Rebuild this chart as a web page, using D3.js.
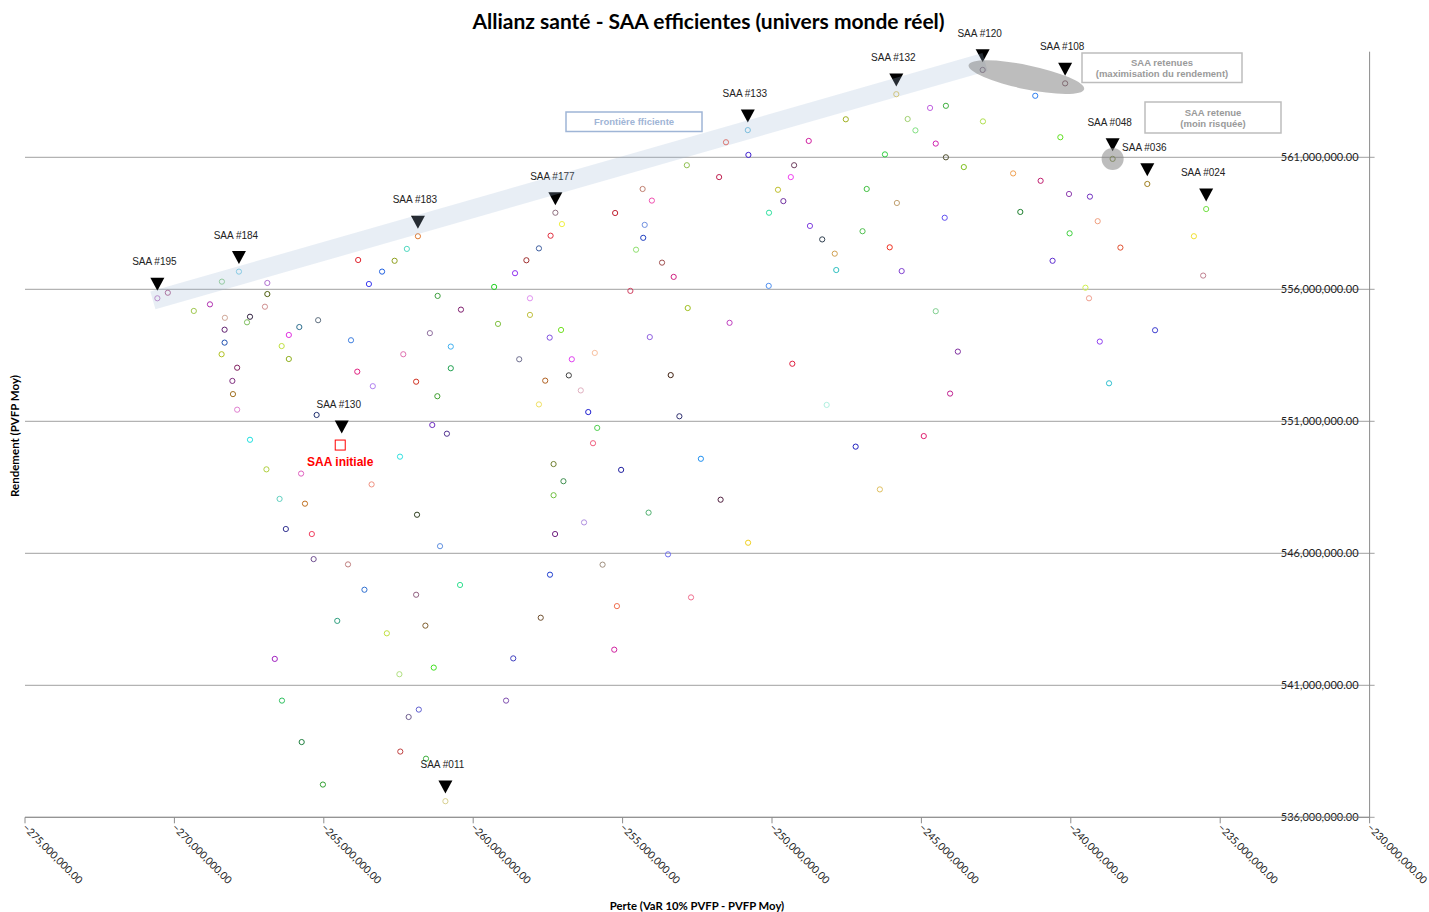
<!DOCTYPE html>
<html>
<head>
<meta charset="utf-8">
<script src="https://cdn.jsdelivr.net/npm/d3@7"></script>
<style>
  body { margin: 0; background: #fff; }
  svg { display: block; }
</style>
</head>
<body>
<svg id="chart" width="1429" height="912"></svg>
<script>
// Perte (VaR 10% PVFP - PVFP Moy), in millions
const perte = [
  -263.85,-263.49,-263.05,-262.63,-262.22,-261.85,-268.41,-267.84,-266.89,-266.89,-270.22,-270.57,-261.19,
  -269.35,-268.81,-266.97,-268.31,-267.47,-267.57,-268.32,-268.32,-268.42,-267.90,-268.06,-268.04,-267.90,-266.17,-266.41,-266.17,-265.82,-265.19,-264.09,-263.88,-263.36,-262.34,-261.91,-261.45,-260.75,-260.75,-261.20,-260.41,-265.24,-267.47,-266.92,-265.76,-263.40,-262.45,-261.37,-260.88,-266.48,-265.63,-261.88,-266.27,-265.40,-261.11,-265.34,
  -264.19,-263.64,-261.91,-260.44,-264.55,-262.89,-261.60,-266.64,-261.32,-262.47,-266.40,-261.82,-262.16,-265.74,-262.44,-261.58,-265.03,-260.93,
  -250.81,-251.54,-250.79,-248.77,-247.53,-245.84,-245.46,-245.20,-246.22,-252.85,-251.77,-249.26,-249.37,-249.80,-249.62,-250.10,-246.83,-245.82,-248.73,-248.32,-247.90,-247.85,-246.97,-246.06,-245.66,-250.11,-254.33,-254.02,-255.25,-254.26,-254.31,-254.55,-253.68,-253.29,-254.74,-257.25,-257.03,-257.41,-257.80,-258.22,-258.60,-259.30,-258.10,
  -258.10,-259.17,-257.06,-257.44,-254.09,-252.82,-251.42,-258.46,-256.70,-255.93,-257.59,-256.80,-256.40,-253.39,-249.32,-257.80,-256.15,-253.10,-248.17,-255.85,-255.99,-257.31,-256.98,-257.31,-255.05,-252.38,-251.72,-254.13,-256.29,-257.26,-250.80,-247.20,-246.39,-244.92,-253.48,
  -255.67,-257.43,-255.19,-252.71,-257.74,-255.28,-258.66,-258.90,
  -242.95,-240.19,-241.19,-244.71,-244.18,-242.94,-240.35,-244.52,-244.18,-243.58,-241.93,-241.01,-240.06,-239.36,-238.60,-237.44,-235.47,-244.22,-241.69,-239.10,-240.04,-238.34,-235.88,-240.61,-235.57,-239.51,-239.39,
  -244.52,-243.78,-244.04,-239.03,-237.18,-238.72
];

// Rendement (PVFP Moy), in millions
const rendement = [
  557.11,556.20,556.67,557.08,557.53,558.01,556.29,556.67,556.24,555.82,555.87,555.66,555.75,
  555.18,555.43,555.34,554.92,554.96,554.75,554.47,553.98,553.54,553.03,552.53,552.03,551.44,554.27,553.85,553.36,554.57,554.83,554.07,552.88,552.33,553.54,552.50,554.34,553.83,553.01,551.95,555.23,551.24,550.30,549.18,549.02,548.61,549.66,550.86,550.53,548.06,547.88,547.46,546.92,546.73,546.27,545.78,
  545.58,544.62,544.43,544.80,543.44,542.97,543.26,542.00,541.67,541.42,540.42,540.08,539.80,538.85,538.49,538.22,537.24,536.61,
  562.03,561.57,561.09,561.62,562.44,563.39,562.45,562.02,561.11,560.70,560.25,560.70,560.25,559.77,559.34,558.90,559.80,559.27,558.40,557.89,557.35,556.73,558.20,557.59,556.69,556.13,559.80,559.36,558.89,558.44,557.95,557.50,557.01,556.47,555.94,558.90,558.47,558.03,557.55,557.10,556.61,556.09,555.66,
  555.03,554.69,554.46,554.17,554.19,555.29,554.73,553.35,553.35,553.59,552.54,552.74,552.17,552.75,553.18,551.64,551.35,551.19,551.62,550.75,550.17,549.38,548.73,548.20,549.16,549.58,548.03,547.54,547.17,546.73,546.40,550.04,548.42,550.44,545.96,
  545.57,545.19,544.00,544.33,543.56,542.35,542.02,540.42,
  564.31,563.80,563.33,562.87,562.95,562.36,561.76,561.52,561.00,560.63,560.39,560.11,559.61,559.51,560.94,559.99,559.04,558.71,558.93,558.58,558.12,557.58,558.01,557.08,556.52,556.06,555.66,
  555.17,553.64,552.05,554.02,554.45,552.44
];

// One marker colour per SAA
const couleurs = [
  "#e0202a","#3a3af0","#2060e0","#8fa020","#50d8c0","#e07a30","#90d090","#80d0e8","#b070d0","#506010","#b06090","#c080c8","#40a040",
  "#a0c850","#b030b0","#d09090","#d0a898","#302040","#80c060","#602070","#2050b0","#b0c020","#802060","#803080","#a07020","#e080d0","#e030e0","#c0e040","#90b020","#307090","#607080","#4080e0","#e02080","#b080f0","#e070b0","#d03020","#9070a0","#40b0f0","#20a050","#40a030","#802070","#203070","#20e0e0","#b0d040","#e060c0","#f09080","#30e0e0","#7030c0","#503090","#60d0c0","#c07020","#304020","#303090","#f04060","#6090e0","#705090",
  "#c08080","#3070d0","#906080","#30e090","#30a080","#c0e040","#806030","#a020c0","#40e020","#b0e080","#30c060","#6060d0","#706090","#208040","#c04040","#40b040","#30a030","#d8d090",
  "#70c0e0","#f06050","#4020d0","#d020a0","#a0b020","#e0c860","#a0d070","#80e080","#30d040","#90c050","#c02050","#704060","#f040f0","#c0c030","#7030a0","#30e0a0","#40c040","#c0a070","#8040e0","#304050","#d0a050","#30c0c0","#50c050","#f03020","#8040d0","#5090f0","#c08070","#f050b0","#c02030","#7090e0","#2040c0","#90e070","#a05050","#d02080","#d04060","#907080","#f0f040","#e03040","#4060a0","#a03030","#9030f0","#20d020","#e090f0",
  "#c0c040","#80c040","#70e020","#8050e0","#9060e0","#a0c020","#c040c0","#707090","#e040f0","#f8c0a0","#b06020","#404040","#e0b0c0","#402010","#e02040","#f0e060","#2020d0","#303070","#b0f0e0","#50d050","#f06080","#708030","#409050","#70c040","#2020a0","#2090f0","#502040","#50b070","#b090e0","#702080","#f0d020","#2020c0","#e0c060","#e02070","#7070f0",
  "#a09080","#2040d0","#f07050","#f07090","#705030","#d020a0","#4040c0","#8050b0",
  "#806080","#805060","#3080f0","#c060e0","#40b040","#b0e050","#60e020","#d020b0","#505030","#80c020","#f0a050","#c02070","#9040b0","#7030c0","#809040","#a08020","#70e040","#6050f0","#208030","#f0a080","#40d040","#e05030","#f0e030","#6030d0","#c08090","#d0f050","#f0a090",
  "#80d090","#8030a0","#c02090","#9040f0","#4040d0","#30c0d0"
];

// Current allocation
const saaInitiale = { perte: -264.45, rendement: 550.10 };

// Named allocations
const saaNommees = [
  { nom: "SAA #195", perte: -270.57, rendement: 555.66 },
  { nom: "SAA #184", perte: -267.84, rendement: 556.67 },
  { nom: "SAA #183", perte: -261.85, rendement: 558.01 },
  { nom: "SAA #177", perte: -257.25, rendement: 558.90 },
  { nom: "SAA #133", perte: -250.81, rendement: 562.03 },
  { nom: "SAA #132", perte: -245.84, rendement: 563.39 },
  { nom: "SAA #120", perte: -242.95, rendement: 564.31 },
  { nom: "SAA #108", perte: -240.19, rendement: 563.80 },
  { nom: "SAA #048", perte: -238.60, rendement: 560.94 },
  { nom: "SAA #036", perte: -237.44, rendement: 559.99 },
  { nom: "SAA #024", perte: -235.47, rendement: 559.04 },
  { nom: "SAA #130", perte: -264.40, rendement: 550.25 },
  { nom: "SAA #011", perte: -260.93, rendement: 536.61 }
];

// Efficient frontier band (start / end)
const frontiere = [
  { perte: -270.72, rendement: 555.58 },
  { perte: -242.87, rendement: 564.61 }
];

const retenuesRendement = ["SAA #120", "SAA #108"];
const retenueRisque = "SAA #048";

const xTicks = [-275, -270, -265, -260, -255, -250, -245, -240, -235, -230];
const yTicks = [536, 541, 546, 551, 556, 561];

const svg = d3.select("#chart");
const x = d3.scaleLinear().domain([-275, -230]).range([25, 1369.6]);
const y = d3.scaleLinear().domain([536, 565]).range([817.3, 51.7]);
const fmt = v => d3.format(",.2f")(v * 1e6);
const axisFont = "Lato, 'Open Sans', sans-serif";

// Horizontal gridlines
svg.append("g").selectAll("line").data(yTicks).join("line")
  .attr("x1", x(-275)).attr("x2", x(-230) + 5)
  .attr("y1", d => y(d)).attr("y2", d => y(d))
  .attr("stroke", "#a0a0a0").attr("stroke-width", 1);

// Right value axis
svg.append("line")
  .attr("x1", x(-230)).attr("x2", x(-230))
  .attr("y1", y(565)).attr("y2", y(536))
  .attr("stroke", "#8c8c8c");

svg.append("g").selectAll("text").data(yTicks).join("text")
  .attr("x", x(-230) - 11).attr("y", d => y(d)).attr("dy", "0.35em")
  .attr("text-anchor", "end")
  .attr("font-family", axisFont).attr("font-size", 11).attr("fill", "#222")
  .text(d => fmt(d));

// Bottom axis
svg.append("line")
  .attr("x1", x(-275)).attr("x2", x(-230))
  .attr("y1", y(536)).attr("y2", y(536))
  .attr("stroke", "#8c8c8c");
svg.append("g").selectAll("line").data(xTicks).join("line")
  .attr("x1", d => x(d)).attr("x2", d => x(d))
  .attr("y1", y(536)).attr("y2", y(536) + 6)
  .attr("stroke", "#8c8c8c");
svg.append("g").selectAll("text").data(xTicks).join("text")
  .attr("transform", d => `translate(${x(d) - 3},${y(536) + 11}) rotate(45)`)
  .attr("font-family", axisFont).attr("font-size", 10.4).attr("fill", "#222")
  .text(d => fmt(d));

// Axis titles
svg.append("text")
  .attr("x", 697).attr("y", 910).attr("text-anchor", "middle")
  .attr("font-family", axisFont).attr("font-weight", "bold").attr("font-size", 11.3)
  .text("Perte (VaR 10% PVFP - PVFP Moy)");
svg.append("text")
  .attr("transform", "translate(19,436) rotate(-90)").attr("text-anchor", "middle")
  .attr("font-family", axisFont).attr("font-weight", "bold").attr("font-size", 11.5)
  .text("Rendement (PVFP Moy)");

// Title
svg.append("text")
  .attr("x", 708.5).attr("y", 29).attr("text-anchor", "middle")
  .attr("font-family", axisFont).attr("font-weight", "bold").attr("font-size", 21)
  .text("Allianz santé - SAA efficientes (univers monde réel)");

// SAA scatter
const points = perte.map((p, i) => ({ perte: p, rendement: rendement[i], couleur: couleurs[i] }));
svg.append("g").selectAll("circle").data(points).join("circle")
  .attr("cx", d => x(d.perte)).attr("cy", d => y(d.rendement))
  .attr("r", 2.6).attr("fill", "none")
  .attr("stroke", d => d.couleur).attr("stroke-width", 1);

// Initial allocation
svg.append("rect")
  .attr("x", x(saaInitiale.perte) - 5).attr("y", y(saaInitiale.rendement) - 5)
  .attr("width", 10).attr("height", 10)
  .attr("fill", "none").attr("stroke", "#ff0000").attr("stroke-width", 1);
svg.append("text")
  .attr("x", x(saaInitiale.perte)).attr("y", y(saaInitiale.rendement) + 21)
  .attr("text-anchor", "middle")
  .attr("font-family", "'Liberation Sans', Arial, sans-serif").attr("font-weight", "bold")
  .attr("font-size", 12).attr("fill", "#ff0000")
  .text("SAA initiale");

// Pointer triangles and names
const ann = svg.append("g");
ann.selectAll("path").data(saaNommees).join("path")
  .attr("d", d => {
    const cx = x(d.perte), top = y(d.rendement) - 20.6;
    return `M${cx - 7},${top}L${cx + 7},${top}L${cx},${top + 13}Z`;
  })
  .attr("fill", "#000");
ann.selectAll("text").data(saaNommees).join("text")
  .attr("x", d => x(d.perte) - 3).attr("y", d => y(d.rendement) - 33)
  .attr("text-anchor", "middle")
  .attr("font-family", "'Liberation Sans', Arial, sans-serif").attr("font-size", 10)
  .attr("fill", "#222")
  .text(d => d.nom);

// Efficient frontier band
svg.append("line")
  .attr("x1", x(frontiere[0].perte)).attr("y1", y(frontiere[0].rendement))
  .attr("x2", x(frontiere[1].perte)).attr("y2", y(frontiere[1].rendement))
  .attr("stroke", "#9fb6d6").attr("stroke-opacity", 0.24)
  .attr("stroke-width", 18.5).attr("stroke-linecap", "butt");

// Highlight of retained allocations
const byName = n => saaNommees.find(s => s.nom === n);
const a = byName(retenuesRendement[0]), b = byName(retenuesRendement[1]);
const ax = x(a.perte), ay = y(a.rendement), bx = x(b.perte), by = y(b.rendement);
const ang = Math.atan2(by - ay, bx - ax) * 180 / Math.PI + 2.5;
svg.append("ellipse")
  .attr("transform", `translate(${(ax + bx) / 2 + 2.5},${(ay + by) / 2 + 0.5}) rotate(${ang})`)
  .attr("rx", 59).attr("ry", 12)
  .attr("fill", "#808080").attr("fill-opacity", 0.52);
const r = byName(retenueRisque);
svg.append("circle")
  .attr("cx", x(r.perte)).attr("cy", y(r.rendement)).attr("r", 11)
  .attr("fill", "#808080").attr("fill-opacity", 0.52);

// Callout boxes
function callout(bx, by, w, h, lines, colour, stroke) {
  const g = svg.append("g");
  g.append("rect").attr("x", bx).attr("y", by).attr("width", w).attr("height", h)
    .attr("fill", "#fff").attr("stroke", stroke).attr("stroke-width", 1.5);
  lines.forEach((t, i) => {
    g.append("text")
      .attr("x", bx + w / 2)
      .attr("y", by + h / 2 + (i - (lines.length - 1) / 2) * 11 + 3.5)
      .attr("text-anchor", "middle")
      .attr("font-family", "'Liberation Sans', Arial, sans-serif").attr("font-weight", "bold")
      .attr("font-size", 9.5).attr("fill", colour)
      .text(t);
  });
}
callout(566, 112, 136, 19.5, ["Frontière fficiente"], "#9fb5d6", "#9fb5d6");
callout(1082, 53, 160, 29.5, ["SAA retenues", "(maximisation du rendement)"], "#9a9a9a", "#bdbdbd");
callout(1145, 102, 136, 31, ["SAA retenue", "(moin risquée)"], "#9a9a9a", "#bdbdbd");
</script>
</body>
</html>
